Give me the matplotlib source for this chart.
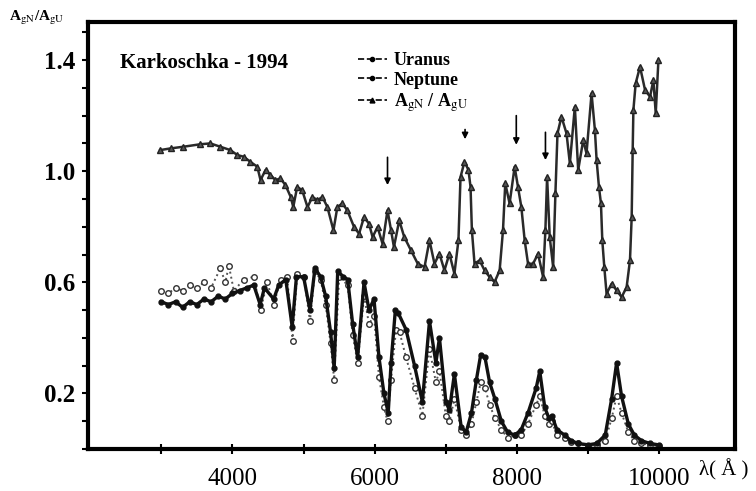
import matplotlib
matplotlib.use("Agg")
import matplotlib.pyplot as plt
from matplotlib.ticker import MultipleLocator, FixedLocator

plt.rcParams['font.family'] = ['Liberation Serif', 'DejaVu Serif']
plt.rcParams['mathtext.fontset'] = 'stix'

# ---- data (wavelength in Angstrom) ----
ratio_wl = [2985, 3130, 3310, 3550, 3690, 3830, 3970, 4070, 4160, 4250, 4350, 4395,
            4465, 4535, 4605, 4675, 4745, 4820, 4855, 4910, 4980, 5055, 5125, 5195,
            5265, 5335, 5420, 5475, 5545, 5615, 5710, 5780, 5850, 5920, 5970, 6040,
            6110, 6180, 6230, 6270, 6345, 6415, 6510, 6605, 6700, 6770, 6840, 6910,
            6980, 7050, 7120, 7177, 7206, 7262, 7318, 7347, 7366, 7403, 7474, 7544,
            7615, 7685, 7756, 7803, 7835, 7896, 7967, 8014, 8061, 8108, 8155, 8226,
            8296, 8367, 8399, 8423, 8460, 8508, 8540, 8569, 8625, 8696, 8743, 8813,
            8860, 8931, 8977, 9048, 9095, 9119, 9152, 9180, 9199, 9227, 9259, 9330,
            9400, 9471, 9541, 9588, 9612, 9626, 9636, 9668, 9729, 9800, 9870, 9917,
            9950, 9988]
ratio = [1.076, 1.082, 1.088, 1.097, 1.100, 1.088, 1.076, 1.058, 1.052, 1.034, 1.016, 0.968,
         1.004, 0.986, 0.968, 0.974, 0.950, 0.907, 0.871, 0.943, 0.932, 0.871, 0.907, 0.896,
         0.907, 0.871, 0.787, 0.871, 0.884, 0.859, 0.799, 0.775, 0.835, 0.811, 0.763, 0.799,
         0.739, 0.859, 0.787, 0.727, 0.823, 0.763, 0.715, 0.667, 0.655, 0.751, 0.667, 0.703,
         0.643, 0.703, 0.631, 0.751, 0.979, 1.034, 1.004, 0.943, 0.787, 0.667, 0.679, 0.643,
         0.619, 0.601, 0.643, 0.787, 0.956, 0.884, 1.016, 0.943, 0.871, 0.751, 0.667, 0.667,
         0.703, 0.619, 0.787, 0.979, 0.763, 0.655, 0.920, 1.136, 1.196, 1.136, 1.028, 1.232,
         1.004, 1.112, 1.064, 1.280, 1.148, 1.040, 0.943, 0.884, 0.751, 0.655, 0.559, 0.595,
         0.571, 0.547, 0.583, 0.679, 0.835, 1.076, 1.220, 1.316, 1.376, 1.292, 1.268, 1.328,
         1.208, 1.400]

uranus_wl = [3000, 3100, 3200, 3300, 3400, 3500, 3600, 3700, 3800, 3900, 4000, 4100,
             4200, 4300, 4390, 4450, 4580, 4650, 4750, 4840, 4900, 5000, 5090, 5160,
             5240, 5310, 5380, 5430, 5480, 5560, 5620, 5690, 5760, 5850, 5920, 5990,
             6060, 6130, 6190, 6230, 6290, 6330, 6440, 6560, 6670, 6770, 6860, 6910,
             7000, 7050, 7120, 7215, 7285, 7360, 7430, 7490, 7550, 7615, 7690, 7780,
             7870, 7970, 8060, 8155, 8270, 8320, 8390, 8450, 8490, 8560, 8670, 8760,
             8860, 9000, 9120, 9240, 9330, 9400, 9470, 9565, 9650, 9750, 9870, 9990]
uranus = [0.53, 0.52, 0.53, 0.51, 0.53, 0.52, 0.54, 0.53, 0.55, 0.54, 0.56, 0.57,
          0.58, 0.59, 0.52, 0.58, 0.54, 0.59, 0.61, 0.44, 0.62, 0.62, 0.50, 0.65,
          0.62, 0.55, 0.42, 0.29, 0.64, 0.62, 0.61, 0.45, 0.33, 0.60, 0.50, 0.54,
          0.33, 0.20, 0.13, 0.31, 0.50, 0.49, 0.43, 0.30, 0.17, 0.46, 0.31, 0.40,
          0.17, 0.14, 0.27, 0.08, 0.06, 0.13, 0.25, 0.34, 0.33, 0.24, 0.18, 0.10,
          0.06, 0.05, 0.07, 0.13, 0.22, 0.28, 0.15, 0.11, 0.12, 0.07, 0.05, 0.03,
          0.02, 0.015, 0.02, 0.05, 0.18, 0.31, 0.19, 0.09, 0.05, 0.03, 0.02, 0.015]

neptune_wl = [3000, 3100, 3200, 3300, 3400, 3500, 3600, 3700, 3830, 3900, 3950, 4020,
              4160, 4300, 4395, 4490, 4580, 4680, 4770, 4845, 4910, 5005, 5090, 5160,
              5240, 5310, 5380, 5430, 5500, 5620, 5690, 5760, 5850, 5920, 5990, 6060,
              6130, 6180, 6230, 6300, 6350, 6440, 6560, 6670, 6770, 6860, 6910, 7000,
              7050, 7120, 7215, 7285, 7360, 7430, 7490, 7550, 7615, 7690, 7780, 7870,
              7970, 8060, 8155, 8270, 8320, 8390, 8450, 8490, 8560, 8670, 8760, 8860,
              9000, 9120, 9240, 9330, 9400, 9470, 9565, 9650, 9750, 9870, 9990]
neptune = [0.57, 0.56, 0.58, 0.57, 0.59, 0.58, 0.60, 0.58, 0.65, 0.60, 0.66, 0.57,
           0.61, 0.62, 0.50, 0.60, 0.52, 0.61, 0.62, 0.39, 0.63, 0.62, 0.46, 0.64,
           0.61, 0.52, 0.38, 0.25, 0.62, 0.59, 0.41, 0.31, 0.55, 0.45, 0.48, 0.26,
           0.15, 0.10, 0.25, 0.43, 0.42, 0.33, 0.22, 0.12, 0.36, 0.24, 0.28, 0.12,
           0.10, 0.18, 0.07, 0.05, 0.09, 0.17, 0.24, 0.22, 0.16, 0.11, 0.07, 0.04,
           0.05, 0.05, 0.09, 0.16, 0.19, 0.12, 0.09, 0.10, 0.05, 0.04, 0.025, 0.02,
           0.01, 0.015, 0.03, 0.11, 0.19, 0.13, 0.06, 0.03, 0.02, 0.015, 0.01]

# arrows marking features on the ratio curve
arrow_wl = [6180, 7270, 7990, 8400]
arrow_top = [1.05, 1.15, 1.20, 1.14]
arrow_bot = [0.95, 1.115, 1.095, 1.04]

x_labels = ['4000', '6000', '8000', '10000']
y_labels = ['0.2', '0.6', '1.0', '1.4']

# ---- figure ----
fig = plt.figure(figsize=(7.56, 4.91), dpi=100)
ax = fig.add_axes([0.1164, 0.0855, 0.8558, 0.8697])

ax.plot(neptune_wl, neptune, ls=':', lw=1.4, color='#555555', marker='o', ms=4,
        mfc='white', mec='#333333', mew=1.0, label='Neptune')
ax.plot(uranus_wl, uranus, ls='-', lw=2.4, color='#111111', marker='o', ms=3.5,
        mfc='#111111', mec='#111111', label='Uranus')
ax.plot(ratio_wl, ratio, ls='-', lw=1.8, color='#2a2a2a', marker='^', ms=4.5,
        mfc='#555555', mec='#222222', label='ratio')

for wl, top, bot in zip(arrow_wl, arrow_top, arrow_bot):
    ax.annotate('', xy=(wl, bot), xytext=(wl, top),
                arrowprops=dict(arrowstyle='-|>', color='black', lw=1.2,
                                mutation_scale=9, shrinkA=0, shrinkB=0))

ax.set_xlim(1970, 11064)
ax.set_ylim(0.0, 1.537)

for s in ax.spines.values():
    s.set_linewidth(3)

ax.xaxis.set_major_locator(FixedLocator([4000, 6000, 8000, 10000]))
ax.xaxis.set_minor_locator(FixedLocator([3000, 5000, 7000, 9000]))
ax.set_xticklabels(x_labels, fontsize=18)
ax.yaxis.set_major_locator(FixedLocator([0.2, 0.6, 1.0, 1.4]))
ax.yaxis.set_minor_locator(MultipleLocator(0.1))
ax.set_yticklabels(y_labels, fontsize=18, fontweight='bold')
ax.tick_params(axis='x', which='both', direction='inout', length=7, width=1.5, pad=10)
ax.tick_params(axis='y', which='both', direction='out', length=4, width=1.5, pad=5)

ax.text(0.05, 0.905, 'Karkoschka - 1994', transform=ax.transAxes,
        fontsize=15, fontweight='bold', va='center', ha='left')

# legend drawn by hand to look like the scanned one
h_u, = ax.plot([], [], ls='--', color='black', lw=1.2, marker='o', ms=3)
h_n, = ax.plot([], [], ls='--', color='black', lw=1.2, marker='o', ms=3)
h_r, = ax.plot([], [], ls='--', color='black', lw=1.2, marker='^', ms=3.5)
ax.legend([h_u, h_n, h_r], ['Uranus', 'Neptune', r'A$_{\rm gN}$ / A$_{\rm gU}$'],
          loc='upper left', bbox_to_anchor=(0.4, 0.955), frameon=False,
          prop=dict(family='Liberation Serif', weight='bold', size=13),
          handlelength=1.6, handletextpad=0.4, labelspacing=0.15, borderpad=0.1)

fig.text(0.012, 0.963, r'A$_{\rm gN}$/A$_{\rm gU}$', fontsize=11, fontweight='bold',
         va='center', ha='left')
fig.text(0.925, 0.043, 'λ( Å )', fontsize=15, va='center', ha='left')

fig.savefig('out.png', dpi=100, facecolor='white')
